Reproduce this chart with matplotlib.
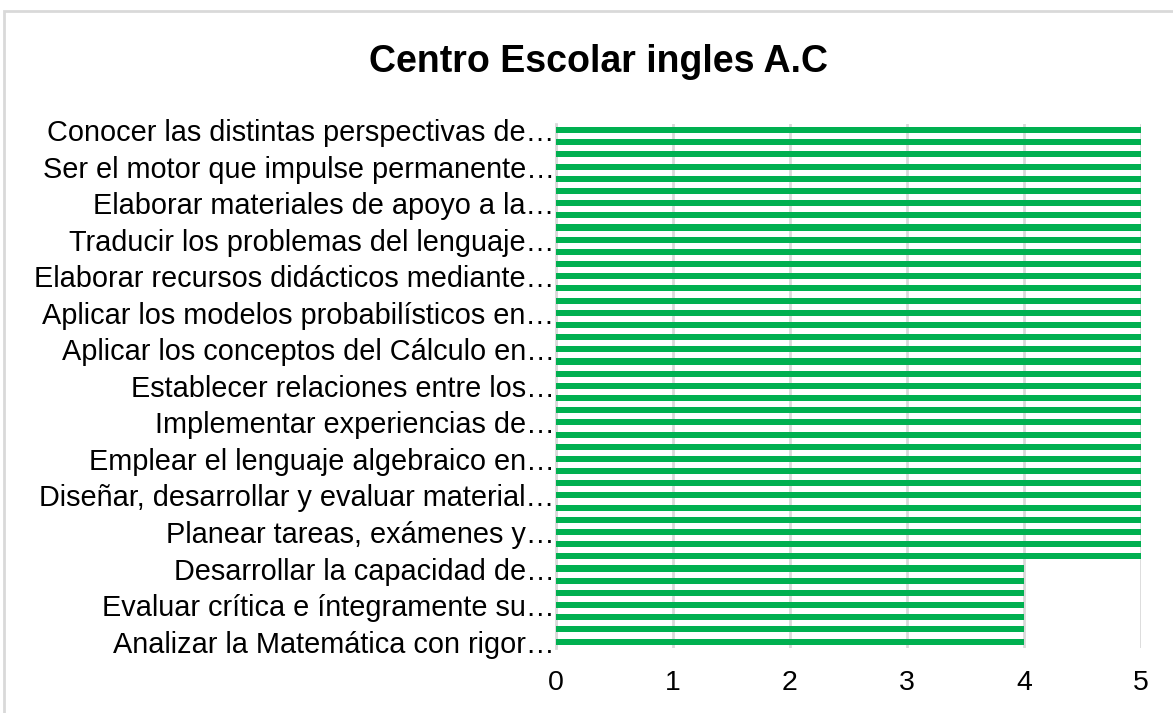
import matplotlib
matplotlib.use('Agg')
import matplotlib.pyplot as plt
from matplotlib.patches import Rectangle

plt.rcParams['font.family'] = ['Liberation Sans', 'DejaVu Sans']

# 43 categorias (de abajo hacia arriba), Excel solo muestra 1 de cada 3 etiquetas
valores = [4, 4, 4, 4, 4, 4, 4,
           5, 5, 5, 5, 5, 5, 5, 5, 5, 5,
           5, 5, 5, 5, 5, 5, 5, 5, 5, 5,
           5, 5, 5, 5, 5, 5, 5, 5, 5, 5,
           5, 5, 5, 5, 5, 5]

etiquetas = ['Analizar la Matemática con rigor…',
             'Evaluar crítica e íntegramente su…',
             'Desarrollar la capacidad de…',
             'Planear tareas, exámenes y…',
             'Diseñar, desarrollar y evaluar material…',
             'Emplear el lenguaje algebraico en…',
             'Implementar experiencias de…',
             'Establecer relaciones entre los…',
             'Aplicar los conceptos del Cálculo en…',
             'Aplicar los modelos probabilísticos en…',
             'Elaborar recursos didácticos mediante…',
             'Traducir los problemas del lenguaje…',
             'Elaborar materiales de apoyo a la…',
             'Ser el motor que impulse permanente…',
             'Conocer las distintas perspectivas de…']

titulo = 'Centro Escolar ingles A.C'
verde = '#00B050'
gris = '#D9D9D9'

fig = plt.figure(figsize=(11.73, 7.13), dpi=100)
ax = fig.add_axes([0.474, 0.0916, 0.4987, 0.7345])

pos = list(range(len(valores)))
ax.barh(pos, valores, height=0.5, color=verde, zorder=3)

ax.set_xlim(0, 5)
ax.set_ylim(-0.5, len(valores) - 0.5)
ax.set_xticks(range(0, 6))
ax.set_yticks(pos[::3])
ax.set_yticklabels(etiquetas)
ax.tick_params(axis='y', length=0, pad=1, labelsize=20.8)
ax.tick_params(axis='x', length=0, pad=16, labelsize=20.5)

ax.grid(axis='x', color=gris, linewidth=2, zorder=0)
for lado in ['top', 'right', 'bottom']:
    ax.spines[lado].set_visible(False)
ax.spines['left'].set_color(gris)
ax.spines['left'].set_linewidth(2)

fig.text(0.51, 0.913, titulo, ha='center', va='center',
         fontsize=27, fontweight='bold')

# borde del area del grafico
fig.patches.append(Rectangle((0.003, -0.05), 1.2, 0.985 + 0.05 - 0.001,
                             transform=fig.transFigure, fill=False,
                             edgecolor=gris, linewidth=2))

fig.savefig('out.png', dpi=100)
